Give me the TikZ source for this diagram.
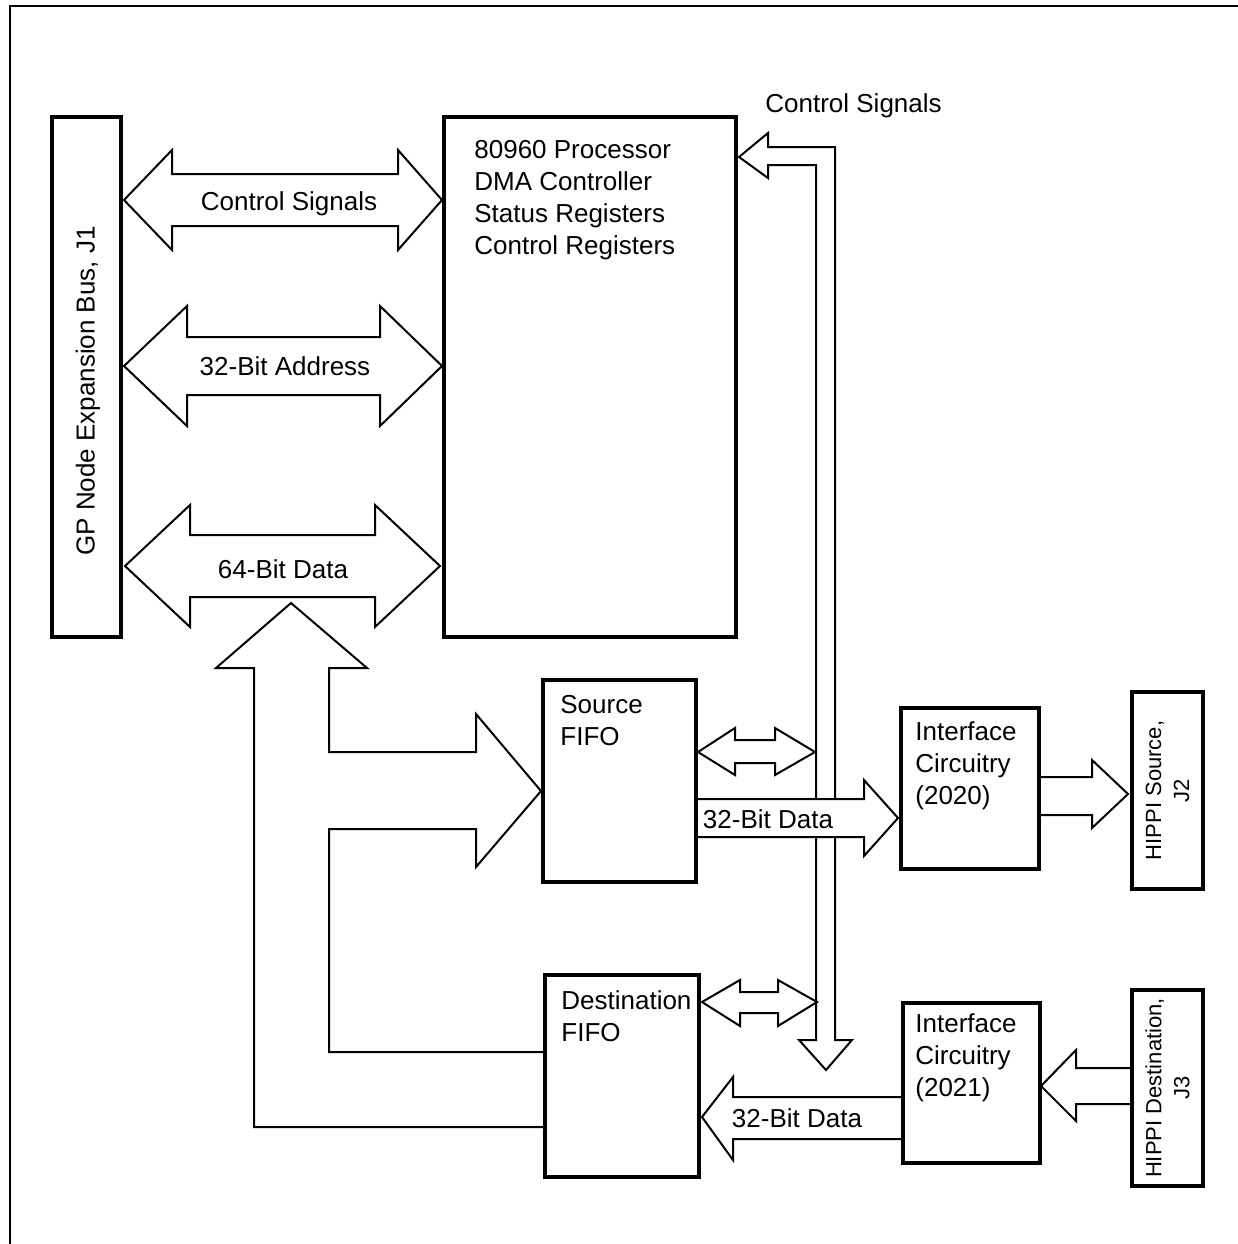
\documentclass[tikz,border=0pt]{standalone}
\usepackage{fontspec}
\setmainfont{Liberation Sans}
\pgfdeclarelayer{bg}
\pgfsetlayers{bg,main}
\begin{document}
\begin{tikzpicture}[x=0.5pt,y=-0.5pt,
  box/.style={draw,line width=2.2pt,rectangle,inner sep=0pt},
  fat/.style={draw,line width=1pt,fill=white,line join=miter},
  txt/.style={font=\fontsize{13pt}{16pt}\selectfont,inner sep=0pt,align=left},
  small/.style={font=\fontsize{11pt}{14pt}\selectfont,align=center,inner sep=0pt}]
\useasboundingbox (0,0) rectangle (1238,1244);
\draw[line width=1pt] (10,1244) -- (10,6) -- (1238,6);

% boxes
\node[box,minimum width=34.5pt,minimum height=260pt] (j1) at (86.5,377) {};
\node[txt,rotate=90] (j1txt) at (88,391) {GP Node Expansion Bus, J1};
\node[box,minimum width=146pt,minimum height=260pt] (cpu) at (590,377) {};
\node[box,minimum width=76.5pt,minimum height=101pt] (srcfifo) at (619.5,781) {};
\node[box,minimum width=77pt,minimum height=101pt] (dstfifo) at (622,1076) {};
\node[box,minimum width=69pt,minimum height=80.5pt] (if20) at (970,788.5) {};
\node[box,minimum width=68.5pt,minimum height=80pt] (if21) at (971.5,1083) {};
\node[box,small,rotate=90,minimum width=98.5pt,minimum height=35.5pt] (j2) at (1167.5,790.5) {HIPPI Source,\\J2};
\node[box,small,rotate=90,minimum width=98pt,minimum height=35.5pt] (j3) at (1167.5,1088) {HIPPI Destination,\\J3};

% box texts
\node[txt,anchor=north west] (cputxt) at (474,140) {80960 Processor\\DMA Controller\\Status Registers\\Control Registers};
\node[txt,anchor=north west] (srctxt) at (560,695) {Source\\FIFO};
\node[txt,anchor=north west] (dsttxt) at (561,990) {Destination\\FIFO};
\node[txt,anchor=north west] (if20txt) at (915,721) {Interface\\Circuitry\\(2020)};
\node[txt,anchor=north west] (if21txt) at (915,1013) {Interface\\Circuitry\\(2021)};
\node[txt,anchor=base west] (ctltop) at (765,112) {Control Signals};

\begin{pgfonlayer}{bg}
% J1 <-> CPU buses
\draw[fat] (124,200) -- (172,150) -- (172,174) -- (398,174) -- (398,150) -- (442,200)
  -- (398,250) -- (398,226) -- (172,226) -- (172,250) -- cycle;
\draw[fat] (124,366) -- (187,306) -- (187,337) -- (380,337) -- (380,306) -- (442,366)
  -- (380,426) -- (380,395) -- (187,395) -- (187,426) -- cycle;
\draw[fat] (125,566) -- (190,505) -- (190,535) -- (375,535) -- (375,505) -- (440,566)
  -- (375,627) -- (375,597) -- (190,597) -- (190,627) -- cycle;
% data path from FIFOs
\draw[fat] (543,1052) -- (329,1052) -- (329,829) -- (476,829) -- (476,867) -- (541,791)
  -- (476,714) -- (476,752) -- (329,752) -- (329,668) -- (367,668) -- (291,603)
  -- (216,668) -- (254,668) -- (254,1127) -- (543,1127);
% control signal bus
\draw[fat] (739,157) -- (768,133) -- (768,147) -- (835,147) -- (835,1040) -- (852,1040)
  -- (826,1070) -- (799,1040) -- (816,1040) -- (816,165) -- (768,165) -- (768,178) -- cycle;
% small double arrows
\draw[fat] (698,752) -- (735,728) -- (735,740) -- (775,740) -- (775,728) -- (815,752)
  -- (775,775) -- (775,763) -- (735,763) -- (735,775) -- cycle;
\draw[fat] (702,1002) -- (740,980) -- (740,992) -- (778,992) -- (778,980) -- (817,1002)
  -- (778,1026) -- (778,1013) -- (740,1013) -- (740,1026) -- cycle;
% 32-bit data arrows
\draw[fat] (697,799) -- (864,799) -- (864,780) -- (898,818) -- (864,856) -- (864,837) -- (697,837);
\draw[fat] (902,1097) -- (733,1097) -- (733,1077) -- (702,1117) -- (733,1160) -- (733,1139) -- (902,1139);
% HIPPI arrows
\draw[fat] (1040,777) -- (1092,777) -- (1092,760) -- (1128,794) -- (1092,828) -- (1092,815) -- (1040,815);
\draw[fat] (1131,1068) -- (1076,1068) -- (1076,1050) -- (1041,1086) -- (1076,1121) -- (1076,1104) -- (1131,1104);
\end{pgfonlayer}

% arrow labels
\node[txt,anchor=base] (lctl) at (289,210) {Control Signals};
\node[txt,anchor=base] (laddr) at (285,375) {32-Bit Address};
\node[txt,anchor=base] (ldata) at (283,578) {64-Bit Data};
\node[txt,anchor=base] (lsrc) at (768,828) {32-Bit Data};
\node[txt,anchor=base] (ldst) at (797,1127) {32-Bit Data};
\end{tikzpicture}
\end{document}
